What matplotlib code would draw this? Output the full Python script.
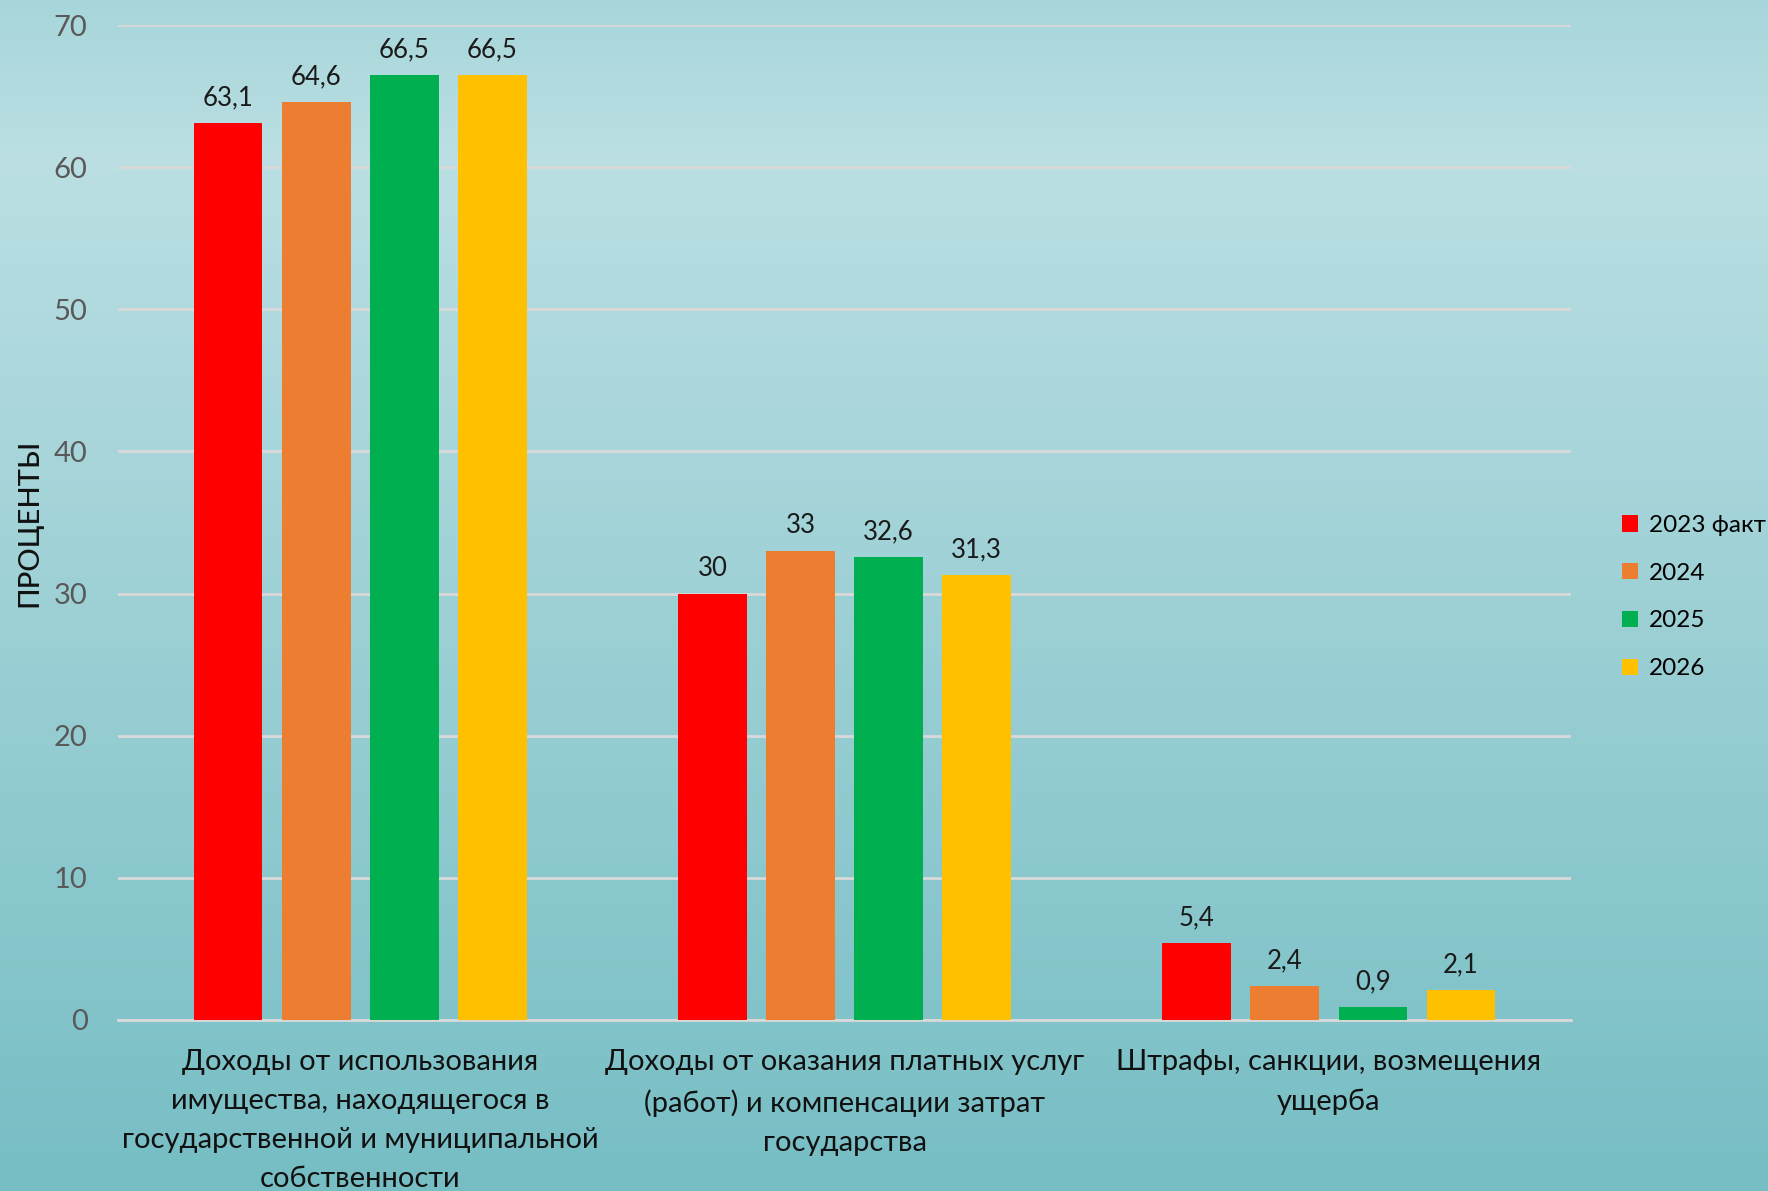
import matplotlib.pyplot as plt
import numpy as np
from matplotlib.colors import LinearSegmentedColormap

plt.rcParams['font.family'] = ['Lato', 'DejaVu Sans']

categories = ['Доходы от использования\nимущества, находящегося в\nгосударственной и муниципальной\nсобственности',
              'Доходы от оказания платных услуг\n(работ) и компенсации затрат\nгосударства',
              'Штрафы, санкции, возмещения\nущерба']
series = ['2023 факт', '2024', '2025', '2026']
values = {
    '2023 факт': [63.1, 30, 5.4],
    '2024': [64.6, 33, 2.4],
    '2025': [66.5, 32.6, 0.9],
    '2026': [66.5, 31.3, 2.1],
}
colors = ['#ff0000', '#ed7d31', '#00b050', '#ffc000']
yticks = [0, 10, 20, 30, 40, 50, 60, 70]


def fmt(v):
    s = f'{v:g}'
    return s.replace('.', ',')


fig = plt.figure(figsize=(17.68, 11.91), dpi=100)

# background gradient
bg = fig.add_axes([0, 0, 1, 1], zorder=-10)
cmap = LinearSegmentedColormap.from_list('bg', [(0, '#a7d6da'), (0.13, '#bbdfe3'), (1, '#76bec4')])
grad = np.linspace(0, 1, 256).reshape(-1, 1)
bg.imshow(grad, aspect='auto', cmap=cmap, extent=[0, 1, 0, 1])
bg.axis('off')

ax = fig.add_axes([0.0668, 0.1436, 0.8218, 0.8354])
ax.patch.set_alpha(0)

x = np.arange(len(categories))
step = 0.182
width = 0.142
for i, (name, col) in enumerate(zip(series, colors)):
    pos = x + (i - 1.5) * step
    bars = ax.bar(pos, values[name], width, color=col, label=name, zorder=3)
    for b, v in zip(bars, values[name]):
        ax.annotate(fmt(v), (b.get_x() + b.get_width() / 2, v), xytext=(0, 9),
                    textcoords='offset points', ha='center', va='bottom',
                    fontsize=18.5, color='#1a1a1a')

ax.set_xlim(-0.5, 2.5)
ax.set_ylim(0, 70)
ax.set_yticks(yticks)
ax.yaxis.grid(True, color='#d9d9d9', linewidth=2, zorder=0)
ax.set_axisbelow(True)
for s in ['top', 'right', 'left']:
    ax.spines[s].set_visible(False)
ax.spines['bottom'].set_color('#d9d9d9')
ax.spines['bottom'].set_linewidth(2)
ax.tick_params(axis='y', length=0, labelsize=21, labelcolor='#595959', pad=22)
ax.set_xticks(x)
ax.set_xticklabels(categories, fontsize=21, color='#111111', linespacing=1.62)
ax.tick_params(axis='x', length=0, pad=21)
ax.set_ylabel('ПРОЦЕНТЫ', fontsize=21, color='#111111', labelpad=8, fontweight='medium')

ax.legend(loc='center left', bbox_to_anchor=(1.02, 0.425), frameon=False,
          fontsize=17.5, handlelength=0.65, handleheight=0.65, labelspacing=1.1,
          handletextpad=0.45)

fig.savefig('out.png', dpi=100)
